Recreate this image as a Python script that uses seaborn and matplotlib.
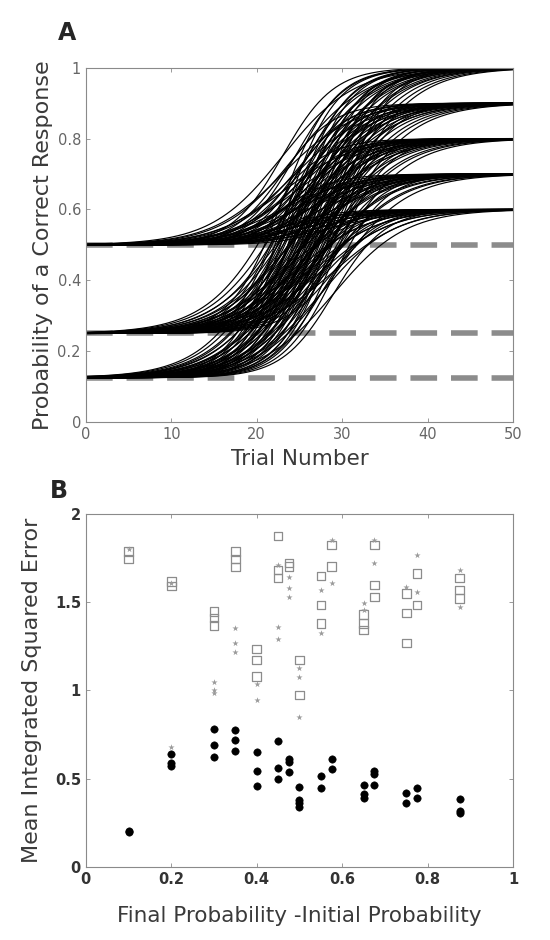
import numpy as np
import pandas as pd
import matplotlib
matplotlib.use("Agg")
import matplotlib.pyplot as plt
import seaborn as sns

# ---------------- Panel A: learning-curve parameters ----------------
initial_probs = [0.5, 0.25, 0.125]
final_probs = [0.6, 0.7, 0.8, 0.9, 1.0]
midpoints = [23.0, 24.5, 26.0, 27.5, 29.0]
slopes = [3.0, 4.2]
trials = np.linspace(0, 50, 201)

# ---------------- Panel B: error values ----------------
diff_x = [0.1, 0.2, 0.3, 0.35, 0.4, 0.45, 0.475, 0.5, 0.55, 0.575, 0.65, 0.675, 0.75, 0.775, 0.875]
circle_vals = [
    [0.20, 0.195],
    [0.64, 0.59, 0.57],
    [0.78, 0.69, 0.62],
    [0.776, 0.72, 0.657],
    [0.653, 0.545, 0.458],
    [0.715, 0.558, 0.498],
    [0.611, 0.596, 0.535],
    [0.454, 0.378, 0.36, 0.34],
    [0.515, 0.445],
    [0.611, 0.554],
    [0.464, 0.41, 0.39],
    [0.543, 0.524, 0.464],
    [0.42, 0.36],
    [0.445, 0.39],
    [0.382, 0.318, 0.306],
]
square_vals = [
    [1.788, 1.745],
    [1.618, 1.593],
    [1.447, 1.41, 1.368],
    [1.788, 1.746, 1.70],
    [1.234, 1.173, 1.078],
    [1.877, 1.684, 1.637],
    [1.722, 1.703],
    [1.173, 0.974],
    [1.65, 1.485, 1.38],
    [1.826, 1.703],
    [1.43, 1.38, 1.343],
    [1.826, 1.599, 1.53],
    [1.55, 1.44, 1.268],
    [1.665, 1.485],
    [1.637, 1.57, 1.523],
]
star_vals = [
    [1.80],
    [1.61, 0.677],
    [1.05, 1.003, 0.984],
    [1.353, 1.268, 1.22],
    [1.037, 0.946],
    [1.71, 1.362, 1.292],
    [1.642, 1.58, 1.53],
    [1.126, 1.078, 0.85],
    [1.57, 1.325],
    [1.854, 1.608],
    [1.495, 1.457],
    [1.854, 1.722],
    [1.589],
    [1.77, 1.561],
    [1.684, 1.476],
]

# ---------------- build tables ----------------
rows = []
cid = 0
for p0 in initial_probs:
    for p1 in final_probs:
        for mu in midpoints:
            for s in slopes:
                p = p0 + (p1 - p0) / (1.0 + np.exp(-(trials - mu) / s))
                rows.append(pd.DataFrame({"trial": trials, "p": p, "curve": cid}))
                cid += 1
curves = pd.concat(rows, ignore_index=True)

def long_table(vals):
    xs, ys = [], []
    for x, vs in zip(diff_x, vals):
        for v in vs:
            xs.append(x)
            ys.append(v)
    return pd.DataFrame({"diff": xs, "err": ys})

circ_df = long_table(circle_vals)
sq_df = long_table(square_vals)
st_df = long_table(star_vals)

# ---------------- figure ----------------
sns.set_theme(style="white")
plt.rcParams["font.family"] = ["DejaVu Sans"]

fig = plt.figure(figsize=(5.5, 9.4), dpi=100)
axA = fig.add_axes([0.156, 0.551, 0.777, 0.377])
axB = fig.add_axes([0.156, 0.078, 0.777, 0.375])

frame_col = "#8a8a8a"
for ax in (axA, axB):
    for sp in ax.spines.values():
        sp.set_color(frame_col)
        sp.set_linewidth(0.8)
    ax.tick_params(direction="in", length=3, width=0.6, color=frame_col,
                   top=True, right=True, bottom=True, left=True, labelsize=10.5)

# Panel A
for p0 in initial_probs:
    axA.plot([0, 50], [p0, p0], color="#8c8c8c", lw=4, dashes=(4.8, 2.5), zorder=1)
sns.lineplot(data=curves, x="trial", y="p", units="curve", estimator=None,
             color="black", lw=0.85, ax=axA, zorder=2, legend=False)
axA.set_xlim(0, 50)
axA.set_ylim(0, 1)
axA.set_xticks([0, 10, 20, 30, 40, 50])
axA.set_yticks([0, 0.2, 0.4, 0.6, 0.8, 1])
axA.set_xticklabels(["0", "10", "20", "30", "40", "50"], color="#666666")
axA.set_yticklabels(["0", "0.2", "0.4", "0.6", "0.8", "1"], color="#666666")
axA.set_xlabel("Trial Number", fontsize=15.5, color="#3a3a3a", labelpad=5)
axA.set_ylabel("Probability of a Correct Response", fontsize=16, color="#3a3a3a", labelpad=3)

# Panel B
sns.scatterplot(data=sq_df, x="diff", y="err", marker="s", s=38,
                facecolor="none", edgecolor="#8c8c8c", linewidth=0.9, ax=axB)
sns.scatterplot(data=st_df, x="diff", y="err", marker="*", s=22,
                color="#9a9a9a", linewidth=0, ax=axB)
sns.scatterplot(data=circ_df, x="diff", y="err", marker="o", s=28,
                color="black", edgecolor="black", ax=axB)
axB.set_xlim(0, 1)
axB.set_ylim(0, 2)
axB.set_xticks([0, 0.2, 0.4, 0.6, 0.8, 1])
axB.set_yticks([0, 0.5, 1, 1.5, 2])
axB.set_xticklabels(["0", "0.2", "0.4", "0.6", "0.8", "1"], fontweight="bold", color="#333333")
axB.set_yticklabels(["0", "0.5", "1", "1.5", "2"], fontweight="bold", color="#333333")
axB.set_xlabel("Final Probability -Initial Probability", fontsize=15.5, color="#3a3a3a", labelpad=14)
axB.set_ylabel("Mean Integrated Squared Error", fontsize=16, color="#3a3a3a", labelpad=9)

fig.text(0.105, 0.965, "A", fontsize=17, fontweight="bold", ha="left", va="center")
fig.text(0.09, 0.478, "B", fontsize=17, fontweight="bold", ha="left", va="center")

fig.savefig("out.png", dpi=100)
